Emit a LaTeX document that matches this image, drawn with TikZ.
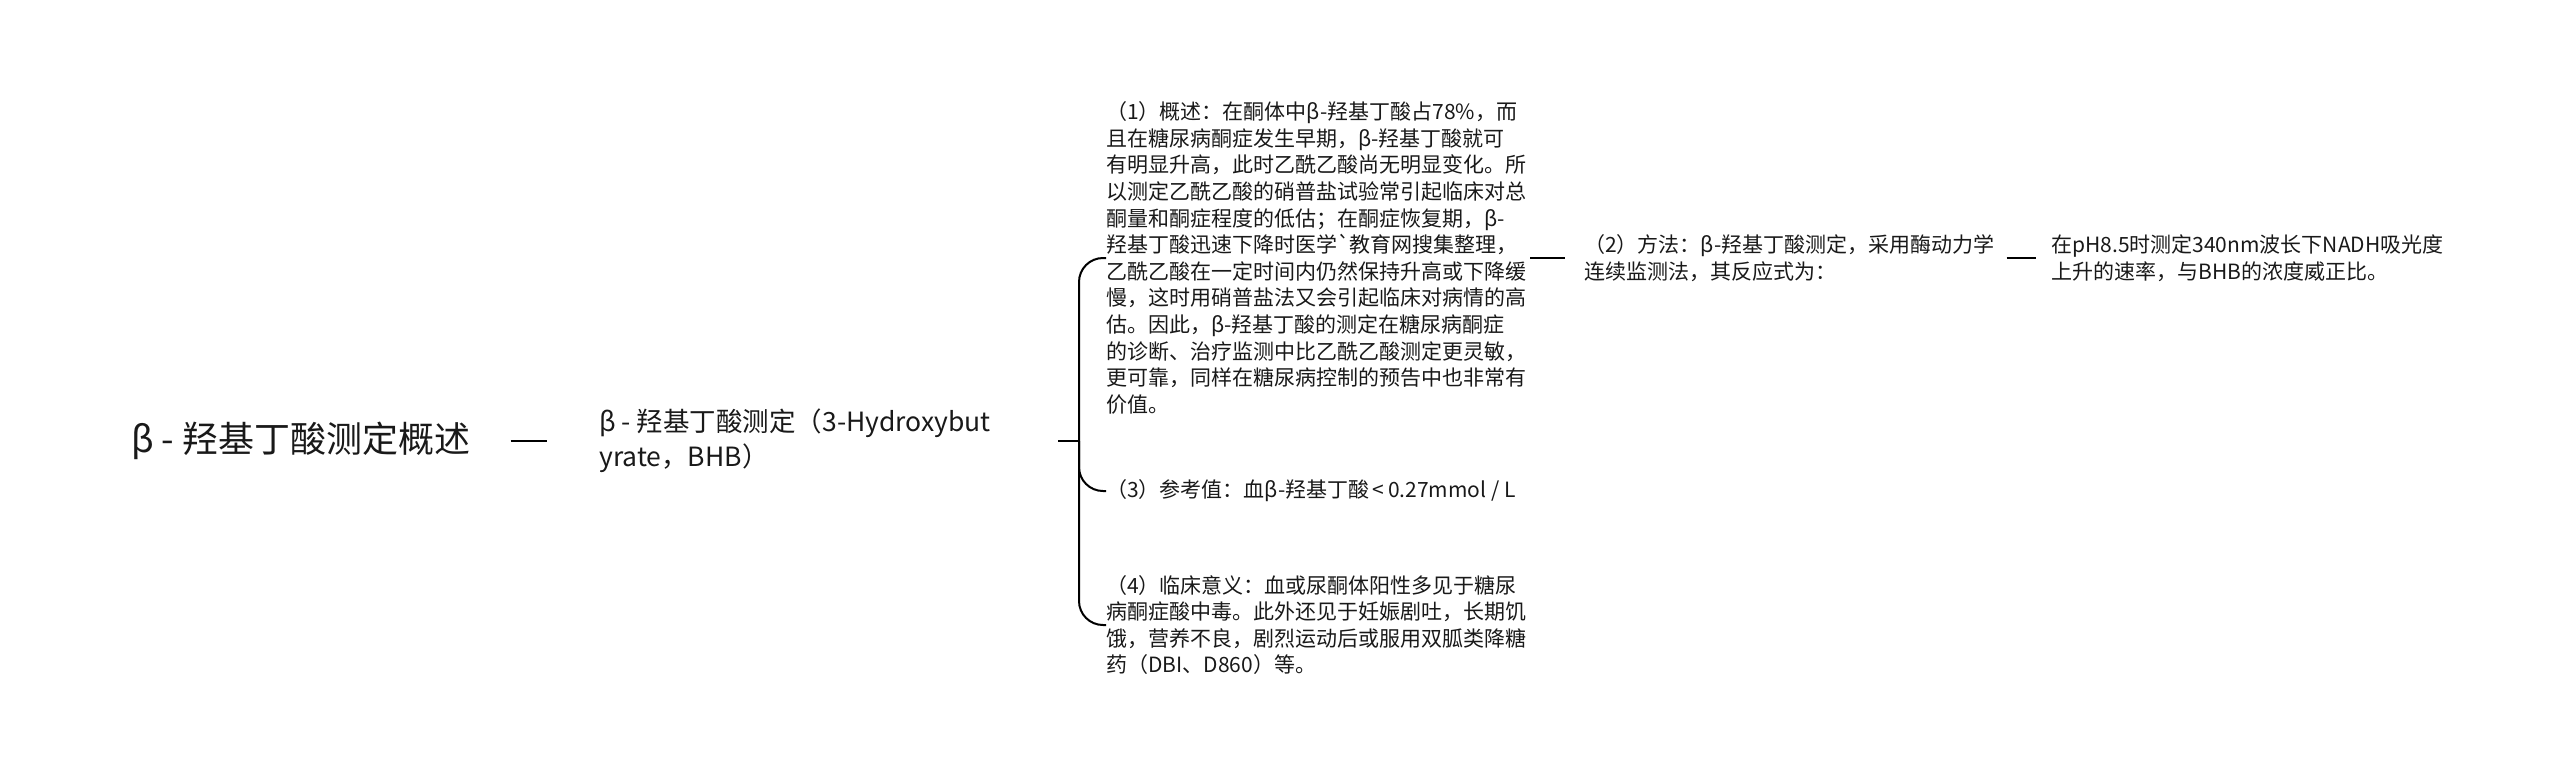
\documentclass[tikz,border=0pt]{standalone}
\usepackage{fontspec}
\setmainfont{Noto Sans CJK SC}[Ligatures=TeXOff]
\begin{document}
\begin{tikzpicture}[x=1pt,y=-1pt,
  every node/.style={inner sep=0pt,anchor=west,align=left,text=black!90},
  big/.style={font=\fontsize{36}{42}\selectfont},
  mid/.style={font=\fontsize{26.5}{35}\selectfont},
  small/.style={font=\fontsize{21}{26.6}\selectfont},
  lnk/.style={line width=2pt},
  brc/.style={line width=2pt,rounded corners=24pt}]
\useasboundingbox (0,0) rectangle (2560,777);
% root and first level
\node[big] (root) at (131,441) {β - 羟基丁酸测定概述};
\node[mid] (bhb) at (599,441) {β - 羟基丁酸测定（3-Hydroxybut\\yrate，BHB）};
\coordinate (fork) at (1079,441);
% children
\node[small] (c1) at (1106,258) {（1）概述：在酮体中β-羟基丁酸占78\%，而\\
且在糖尿病酮症发生早期，β-羟基丁酸就可\\
有明显升高，此时乙酰乙酸尚无明显变化。所\\
以测定乙酰乙酸的硝普盐试验常引起临床对总\\
酮量和酮症程度的低估；在酮症恢复期，β-\\
羟基丁酸迅速下降时医学`教育网搜集整理，\\
乙酰乙酸在一定时间内仍然保持升高或下降缓\\
慢，这时用硝普盐法又会引起临床对病情的高\\
估。因此，β-羟基丁酸的测定在糖尿病酮症\\
的诊断、治疗监测中比乙酰乙酸测定更灵敏，\\
更可靠，同样在糖尿病控制的预告中也非常有\\
价值。};
\node[small] (c3) at (1106,491) {（3）参考值：血β-羟基丁酸\,<\,0.27mmol / L};
\node[small] (c4) at (1106,625) {（4）临床意义：血或尿酮体阳性多见于糖尿\\
病酮症酸中毒。此外还见于妊娠剧吐，长期饥\\
饿，营养不良，剧烈运动后或服用双胍类降糖\\
药（DBI、D860）等。};
\node[small] (c2) at (1584,258) {（2）方法：β-羟基丁酸测定，采用酶动力学\\
连续监测法，其反应式为：};
\node[small] (leaf) at (2051,258) {在pH8.5时测定340nm波长下NADH吸光度\\
上升的速率，与BHB的浓度威正比。};
% connectors
\draw[lnk,shorten <=40pt,shorten >=52pt] (root.east) -- (bhb.west);
\draw[lnk,shorten <=67pt] (bhb.east) -- (fork);
\draw[brc] (fork) |- (c1.west);
\draw[brc] (fork) |- (c3.west);
\draw[brc] (fork) |- (c4.west);
\draw[lnk,shorten <=4pt,shorten >=19pt] (c1.east) -- (c2.west);
\draw[lnk,shorten <=12pt,shorten >=15pt] (c2.east) -- (leaf.west);
\end{tikzpicture}
\end{document}
